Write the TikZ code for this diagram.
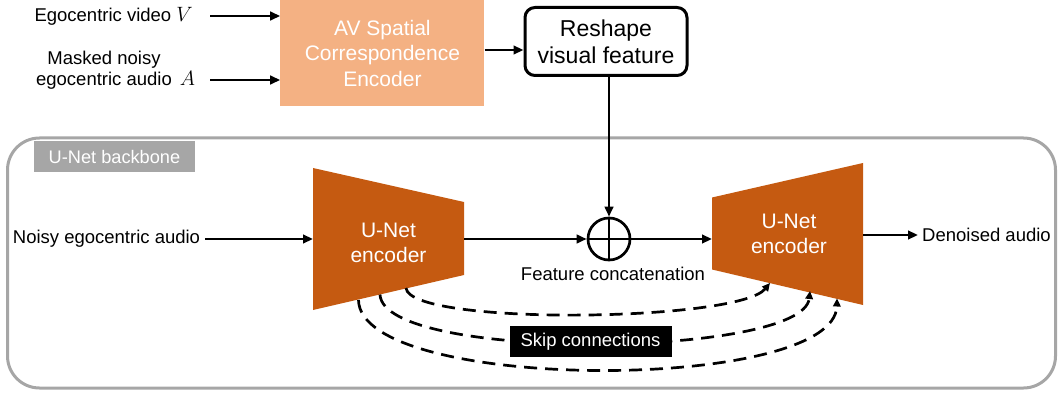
\documentclass[tikz,border=0pt]{standalone}
\usepackage{fontspec}
\setmainfont{Liberation Sans}
\usetikzlibrary{arrows.meta}
\definecolor{peach}{HTML}{F4B183}
\definecolor{rust}{HTML}{C55A11}
\definecolor{bbgray}{HTML}{A6A6A6}
\newcommand{\bigmath}[1]{{\fontsize{22}{22}\selectfont$#1$}}
\begin{document}
\begin{tikzpicture}[x=1pt,y=-1pt,
  txt/.style={font=\fontsize{18.5}{20.5}\selectfont, inner sep=0pt},
  arr/.style={line width=2.7pt, -{Triangle[length=10pt,width=8.5pt]}},
  skiparr/.style={line width=2.7pt, dash pattern=on 13pt off 8pt, -{Triangle[length=8pt,width=7.5pt]}},
  enctxt/.style={text=white, align=center, font=\fontsize{21}{25}\selectfont, inner sep=0pt},
]
\useasboundingbox (0,0) rectangle (1058,393);

% backbone container
\node[draw=bbgray, line width=3pt, rounded corners=32pt, minimum width=1048pt, minimum height=250pt, inner sep=0pt] (bb) at (531.5,263) {};
\node[fill=bbgray, text=white, font=\fontsize{18.2}{20}\selectfont, minimum width=161pt, minimum height=31pt, inner sep=0pt] (bblabel) at (114.5,156.5) {U-Net backbone};

% top inputs
\node[txt, anchor=east] (vid) at (193,16) {Egocentric video \bigmath{V}};
\node[txt, align=center] (mask) at (104,70) {Masked noisy\\egocentric audio\rlap{\hspace{8pt}\bigmath{A}}};
\coordinate (vidout) at (210,16);
\coordinate (maskout) at (210,80);

\node[fill=peach, minimum width=204pt, minimum height=106pt, text=white, align=center, font=\fontsize{21}{25.5}\selectfont] (av) at (382.4,53) {AV Spatial\\Correspondence\\Encoder};

\node[draw, line width=3pt, rounded corners=10pt, minimum width=162pt, minimum height=68pt, align=center, inner sep=0pt, font=\fontsize{23}{27}\selectfont] (resh) at (606,41.5) {Reshape\\visual feature};

\draw[arr] (vidout) -- (vidout -| av.west);
\draw[arr] (maskout) -- (maskout -| av.west);
\draw[arr] ([yshift=3pt]av.east) -- ([yshift=3pt]av.east -| resh.west);

% encoders
\fill[rust] (313,168) -- (464,202) -- (464,275) -- (313,310) -- cycle;
\node[enctxt] (encL) at (388.5,242.5) {U-Net\\encoder};
\fill[rust] (712,197.5) -- (863,163) -- (863,305) -- (712,269.5) -- cycle;
\node[enctxt] (encR) at (789,234) {U-Net\\encoder};

\coordinate (encLin) at (313,239);
\coordinate (encLout) at (464,239);
\coordinate (encRin) at (712,239);
\coordinate (encRout) at (863,235);

\node[txt, anchor=west] (noisy) at (12.7,239) {Noisy egocentric audio};
\draw[arr] ([xshift=5pt]noisy.east) -- (encLin);

\node[circle, draw, line width=2.7pt, minimum size=42pt, inner sep=0pt] (cat) at (609,239) {};
\draw[line width=2.7pt] (cat.north) -- (cat.south) (cat.west) -- (cat.east);
\node[txt] (feat) at (613,274) {Feature concatenation};

\draw[arr] (encLout) -- (cat.west);
\draw[arr] (cat.east) -- (encRin);
\draw[arr] (resh.south -| cat.north) -- (cat.north);

\node[txt, anchor=west] (den) at (922,235) {Denoised audio};
\draw[arr, shorten >=4pt] (encRout) -- (den.west);

% skip connections
\coordinate (s1a) at (406,288);
\coordinate (s1b) at (770,283);
\coordinate (s2a) at (380,294.5);
\coordinate (s2b) at (810,291);
\coordinate (s3a) at (358.5,300);
\coordinate (s3b) at (837,298.5);
\draw[skiparr] (s1a) .. controls (410,326) and (738,322) .. (s1b);
\draw[skiparr] (s2a) .. controls (383,362) and (803,358) .. (s2b);
\draw[skiparr] (s3a) .. controls (360,393) and (835,393) .. (s3b);

\node[fill=black, text=white, font=\fontsize{18.5}{20}\selectfont, minimum width=162pt, minimum height=31.6pt, inner sep=0pt] (skip) at (590.5,341.5) {Skip connections};
\end{tikzpicture}
\end{document}
